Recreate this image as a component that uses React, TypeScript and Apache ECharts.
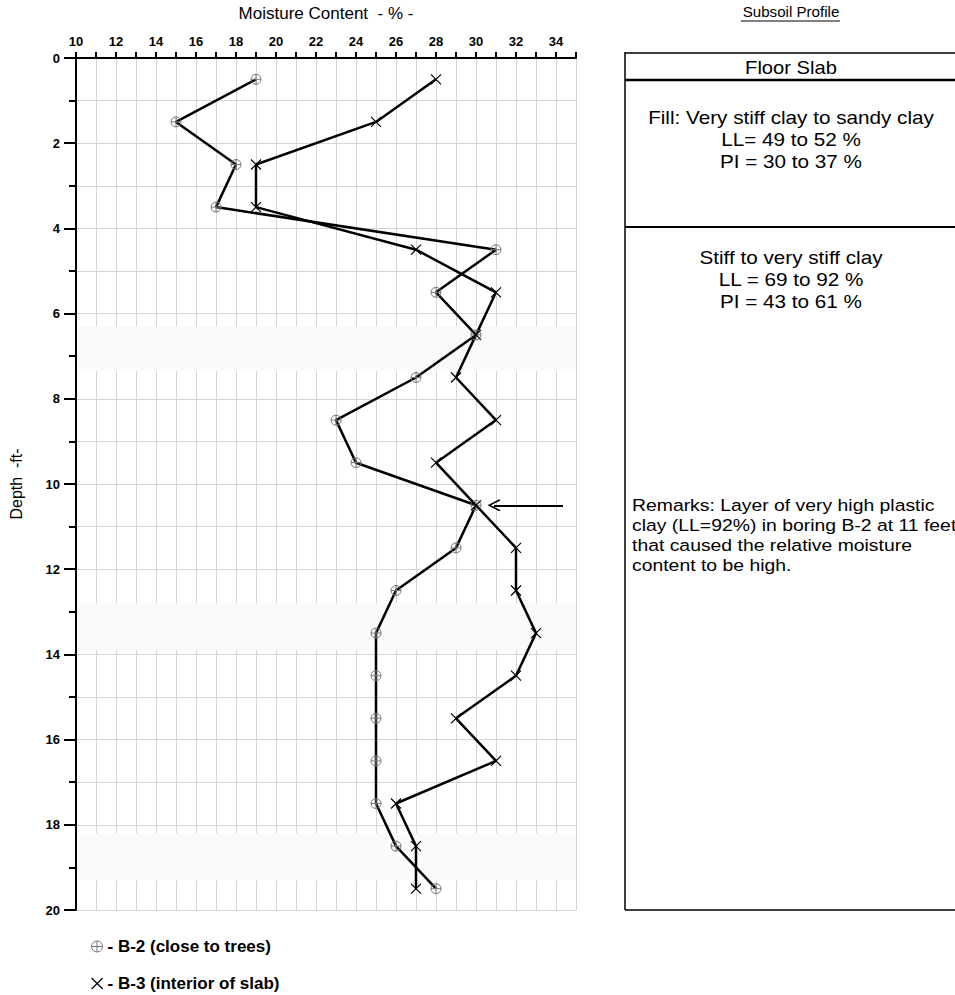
import React, { useEffect, useRef } from "react";
import * as echarts from "echarts";

const depths = [0.5, 1.5, 2.5, 3.5, 4.5, 5.5, 6.5, 7.5, 8.5, 9.5, 10.5, 11.5, 12.5, 13.5, 14.5, 15.5, 16.5, 17.5, 18.5, 19.5];
const b2Moisture = [19, 15, 18, 17, 31, 28, 30, 27, 23, 24, 30, 29, 26, 25, 25, 25, 25, 25, 26, 28];
const b3Moisture = [28, 25, 19, 19, 27, 31, 30, 29, 31, 28, 30, 32, 32, 33, 32, 29, 31, 26, 27, 27];
const seriesNames = ["B-2 (close to trees)", "B-3 (interior of slab)"];
const arrowFrom = [34.35, 10.5];
const arrowTo = [30.9, 10.5];
const scanBands = [[6.3, 7.35], [12.8, 13.9], [18.2, 19.3]];

const FONT = "'Liberation Sans', Arial, sans-serif";
const circlePlus = "path://M0,5A5,5 0 1,1 10,5A5,5 0 1,1 0,5ZM5,0L5,10M0,5L10,5";
const crossX = "path://M0,0L10,10M10,0L0,10";
const chevron = "path://M5,0L10,9L9,10L5,2.6L1,10L0,9Z";

export default function App() {
  const ref = useRef<HTMLDivElement>(null);
  useEffect(() => {
    if (!ref.current) return;
    const chart = echarts.init(ref.current, null, { renderer: "svg" });
    const b2 = depths.map((d, i) => [b2Moisture[i], d]);
    const b3 = depths.map((d, i) => [b3Moisture[i], d]);
    const boxLeft = 625;
    const boxRight = 960;
    const cx = 791;
    const txt = (text: string, x: number, y: number, size: number, sx: number, align = "center") => ({
      type: "text",
      silent: true,
      x,
      y,
      scaleX: sx,
      style: { text, x: 0, y: 0, fill: "#000", fontSize: size, fontFamily: FONT, align, verticalAlign: "middle" },
    });
    const hline = (y: number, w: number) => ({
      type: "line",
      silent: true,
      shape: { x1: boxLeft, y1: y, x2: boxRight, y2: y },
      style: { stroke: "#000", lineWidth: w },
    });
    const legendBase = {
      orient: "vertical",
      left: 91,
      itemWidth: 11,
      itemHeight: 11,
      itemGap: 6,
      padding: 0,
      selectedMode: false,
      textStyle: { fontFamily: FONT, fontSize: 17, fontWeight: "bold", color: "#000" },
      formatter: (n: string) => "- " + n,
    };
    chart.setOption({
      animation: false,
      backgroundColor: "#fff",
      grid: { left: 74, top: 52, width: 502, height: 858, containLabel: false },
      xAxis: {
        type: "value",
        position: "top",
        min: 10,
        max: 35,
        interval: 1,
        name: "Moisture Content  - % -",
        nameLocation: "middle",
        nameGap: 36,
        nameTextStyle: { fontFamily: FONT, fontSize: 17, color: "#000" },
        axisLine: { show: true, onZero: false, lineStyle: { color: "#000", width: 2 } },
        axisTick: { show: true, length: 6, lineStyle: { color: "#000", width: 2 } },
        axisLabel: {
          margin: 10,
          fontFamily: FONT,
          fontSize: 13,
          fontWeight: "bold",
          color: "#000",
          formatter: (v: number) => (v % 2 === 0 ? String(v) : ""),
        },
        splitLine: { show: true, lineStyle: { color: "#d6d6d6", width: 1 } },
      },
      yAxis: {
        type: "value",
        inverse: true,
        min: 0,
        max: 20,
        interval: 2,
        name: "Depth  -ft-",
        nameLocation: "middle",
        nameGap: 52,
        nameRotate: 90,
        nameTextStyle: { fontFamily: FONT, fontSize: 16, color: "#000" },
        axisLine: { show: true, onZero: false, lineStyle: { color: "#000", width: 2 } },
        axisTick: { show: true, length: 12, lineStyle: { color: "#000", width: 2 } },
        minorTick: { show: true, splitNumber: 2, length: 7, lineStyle: { color: "#000", width: 2 } },
        axisLabel: { margin: 16, fontFamily: FONT, fontSize: 13, fontWeight: "bold", color: "#000" },
        splitLine: { show: true, lineStyle: { color: "#d6d6d6", width: 1 } },
        minorSplitLine: { show: true, lineStyle: { color: "#d6d6d6", width: 1 } },
      },
      legend: [
        {
          ...legendBase,
          top: 938,
          data: [{ name: seriesNames[0], icon: circlePlus, itemStyle: { color: "rgba(0,0,0,0)", borderColor: "#777", borderWidth: 1 } }],
        },
        {
          ...legendBase,
          top: 975,
          data: [{ name: seriesNames[1], icon: crossX, itemStyle: { color: "rgba(0,0,0,0)", borderColor: "#000", borderWidth: 1.2 } }],
        },
      ],
      series: [
        {
          type: "line",
          name: "bands",
          data: [],
          z: 1,
          silent: true,
          markArea: {
            silent: true,
            itemStyle: { color: "#fafafa", opacity: 1 },
            data: scanBands.map(([a, b]) => [{ xAxis: 10.06, yAxis: a }, { xAxis: 35, yAxis: b }]),
          },
        },
        {
          type: "line",
          name: seriesNames[0],
          data: b2,
          z: 3,
          symbol: circlePlus,
          symbolSize: 10,
          showAllSymbol: true,
          lineStyle: { color: "#000", width: 2.5 },
          itemStyle: { color: "rgba(0,0,0,0)", borderColor: "#777", borderWidth: 1 },
          markLine: {
            silent: true,
            symbol: ["none", chevron],
            symbolSize: [12, 13],
            label: { show: false },
            lineStyle: { color: "#000", width: 2, type: "solid" },
            data: [[{ coord: arrowFrom }, { coord: arrowTo }]],
          },
        },
        {
          type: "line",
          name: seriesNames[1],
          data: b3,
          z: 3,
          symbol: crossX,
          symbolSize: 10,
          showAllSymbol: true,
          lineStyle: { color: "#000", width: 2.5 },
          itemStyle: { color: "rgba(0,0,0,0)", borderColor: "#000", borderWidth: 1.2 },
        },
      ],
      graphic: [
        txt("Subsoil Profile", cx, 12, 14, 1.08),
        { type: "line", silent: true, shape: { x1: 741, y1: 21, x2: 840, y2: 21 }, style: { stroke: "#000", lineWidth: 1 } },
        { type: "line", silent: true, shape: { x1: boxLeft, y1: 52, x2: boxLeft, y2: 910 }, style: { stroke: "#000", lineWidth: 1.5 } },
        hline(53, 1.5),
        hline(80, 2.5),
        hline(227, 2),
        hline(910, 1.5),
        txt("Floor Slab", cx, 68, 18, 1.12),
        txt("Fill: Very stiff clay to sandy clay", cx, 118, 18, 1.15),
        txt("LL= 49 to 52 %", cx, 140, 18, 1.15),
        txt("PI = 30 to 37 %", cx, 162, 18, 1.15),
        txt("Stiff to very stiff clay", cx, 258, 18, 1.15),
        txt("LL = 69 to 92 %", cx, 280, 18, 1.15),
        txt("PI = 43 to 61 %", cx, 302, 18, 1.15),
        txt("Remarks: Layer of very high plastic", 632, 505, 17, 1.14, "left"),
        txt("clay (LL=92%) in boring B-2 at 11 feet", 632, 525, 17, 1.14, "left"),
        txt("that caused the relative moisture", 632, 545, 17, 1.14, "left"),
        txt("content to be high.", 632, 565, 17, 1.14, "left"),
      ],
    });
    return () => chart.dispose();
  }, []);
  return <div ref={ref} style={{ position: "absolute", left: 0, top: 0, width: 955, height: 995 }} />;
}
